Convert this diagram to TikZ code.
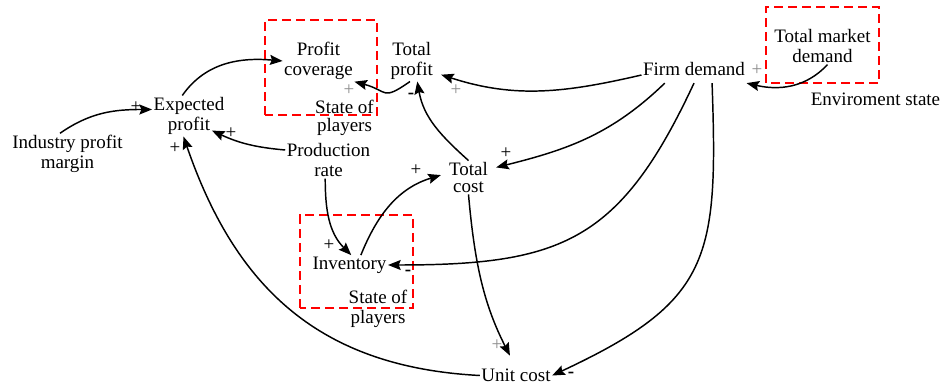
\documentclass[tikz,border=0pt]{standalone}
\usepackage{fontspec}
\setmainfont{Liberation Serif}
\usetikzlibrary{arrows.meta,positioning,calc}
\tikzset{
  >=Stealth,
  font=\fontsize{14.25pt}{15.5pt}\selectfont,
  var/.style  ={align=center, inner sep=1pt},
  tight/.style={font=\fontsize{14.25pt}{13pt}\selectfont},
  link/.style ={-{Stealth[length=9.5pt,width=7.5pt,inset=1.5pt]}, line width=1.1pt},
  grp/.style  ={draw=red, line width=2pt, dash pattern=on 7pt off 3.5pt},
  plus/.style ={inner sep=0pt},
  plusg/.style={inner sep=0pt, text=black!45},
  minus/.style={inner sep=0pt, font=\fontsize{14.25pt}{15.5pt}\selectfont\bfseries},
}

\begin{document}
\begin{tikzpicture}[x=0.75pt, y=0.75pt]
  \useasboundingbox (0,0) rectangle (945,385);

  % state boxes
  \draw[grp] (265,270) rectangle (377,365);
  \draw[grp] (300,77) rectangle (413,170);
  \draw[grp] (766,302) rectangle (879,378);

  % variables
  \node[var] (indmargin) at (67.5,231) {Industry profit\\margin};
  \node[var] (expprof) at (189,269) {Expected\\profit};
  \node[var] (profcov) at (318.5,324) {Profit\\coverage};
  \node[var, inner xsep=6pt, right=21pt of profcov] (totprof) {Total\\profit};
  \node[var, tight] (state1) at (344.5,267) {State of\\players};
  \node[var, inner ysep=5pt] (firmdem) at (694,315.5) {Firm demand};
  \node[var] (mktdem) at (822.5,339) {Total market\\demand};
  \node[var] (envstate) at (875.5,285.5) {Enviroment state};
  \node[var] (prodrate) at (328.5,225) {Production\\rate};
  \node[var, tight, inner xsep=6pt] (totcost) at (468.5,207.5) {Total\\cost};
  \node[var] (invent) at (349.5,120) {Inventory};
  \node[var] (state2) at (378,76) {State of\\players};
  \node[var] (unitcost) at (516,9.5) {Unit cost};

  % links
  \draw[link] (indmargin.110) to[out=35,in=180] (expprof.170);
  \draw[link] (expprof.108) to[out=55,in=175] (profcov.west);
  \draw[link] (prodrate.167) to[out=175,in=-25] ($(expprof.south east)+(-14,6)$);
  \draw[link] (unitcost.west) to[out=177,in=-71,looseness=1.08] (expprof.255);
  \draw[link] (totprof.-95) to[out=215,in=-15,looseness=1.6] (profcov.south east);
  \draw[link] (firmdem.186) to[out=193,in=-18] (totprof.-25);
  \draw[link] (firmdem.205) to[out=224,in=14] (totcost.20);
  \draw[link] (firmdem.south) to[out=-115,in=0,looseness=1.25] (invent.east);
  \draw[link] (firmdem.-37) to[out=-88,in=25,looseness=1.35] (unitcost.east);
  \draw[link] (totcost.north) to[out=138,in=-80] (totprof.-75);
  \draw[link] (invent.41) to[out=68,in=197] (totcost.175);
  \draw[link] (prodrate.-100) to[out=-90,in=135] (invent.80);
  \draw[link, shorten >=10pt] (totcost.south) to[out=-85,in=117] (unitcost.north);
  \draw[link] (mktdem.-75) to[out=227,in=-13] (firmdem.south east);

  % polarities
  \node[plus] (p1) at (136,278) {+};
  \node[plus] (p2) at (231,252) {+};
  \node[plus] (p3) at (175,237) {+};
  \node[plusg] (p4) at (349,295) {+};
  \node[minus] (m5) at (411,289) {-};
  \node[plusg] (p6) at (456,295) {+};
  \node[plus] (p7) at (506,232) {+};
  \node[plus] (p8) at (416,215) {+};
  \node[plus] (p9) at (329,140) {+};
  \node[minus] (m10) at (408,112) {-};
  \node[plusg] (p11) at (497,40) {+};
  \node[minus] (m12) at (571,10) {-};
  \node[plusg] (p13) at (757,315) {+};
\end{tikzpicture}
\end{document}
